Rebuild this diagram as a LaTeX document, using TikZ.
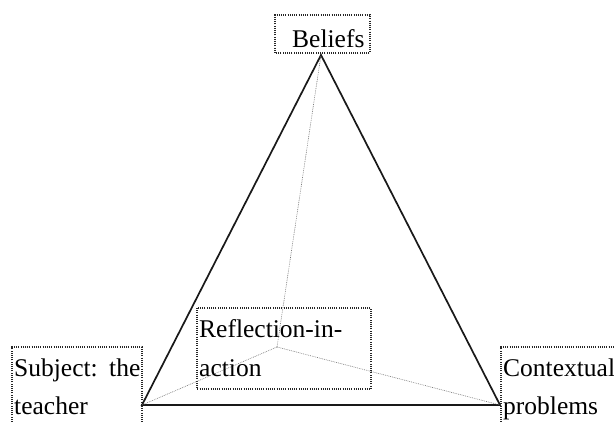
\documentclass[tikz,border=0pt]{standalone}
\usepackage{fontspec}
\setmainfont{Liberation Serif}
\begin{document}
\begin{tikzpicture}[x=1pt,y=-1pt,
  lbl/.style={anchor=base west,inner sep=0pt,font=\fontsize{25.5}{30}\selectfont,text=black},
  dotbox/.style={draw=black!85,line width=1.1pt,dash pattern=on 1pt off 1.2pt},
  side/.style={draw=black!90,line width=1.7pt},
  inner/.style={draw=black!55,line width=0.6pt,dash pattern=on 0.8pt off 1pt}]
\useasboundingbox (0,0) rectangle (614,422);
% vertices
\coordinate (top) at (321,55);
\coordinate (bl) at (142,405);
\coordinate (br) at (500,405);
\coordinate (mid) at (277,347);
% boxes
\draw[dotbox] (275,53) -- (275,15) -- (370,15) -- (370,53) -- cycle;
\draw[dotbox] (12,422) -- (12,347) -- (142,347) -- (142,422);
\draw[dotbox] (197,308) rectangle (371,389);
\draw[dotbox] (501,422) -- (501,347) -- (614,347);
% triangle
\draw[side] (top) -- (bl) -- (br) -- cycle;
% inner lines
\draw[inner] (mid) -- (top);
\draw[inner] (mid) -- (bl);
\draw[inner] (mid) -- (br);
% labels
\node[lbl] (beliefs) at (292,48) {Beliefs};
\node[lbl] (subj1) at (14,377) {Subject:\hspace{0.45em}the};
\node[lbl] (subj2) at (14,415) {teacher};
\node[lbl] (refl1) at (199,338) {Reflection-in-};
\node[lbl] (refl2) at (199,377) {action};
\node[lbl] (ctx1) at (503,377) {Contextual};
\node[lbl] (ctx2) at (503,414) {problems};
\end{tikzpicture}
\end{document}
